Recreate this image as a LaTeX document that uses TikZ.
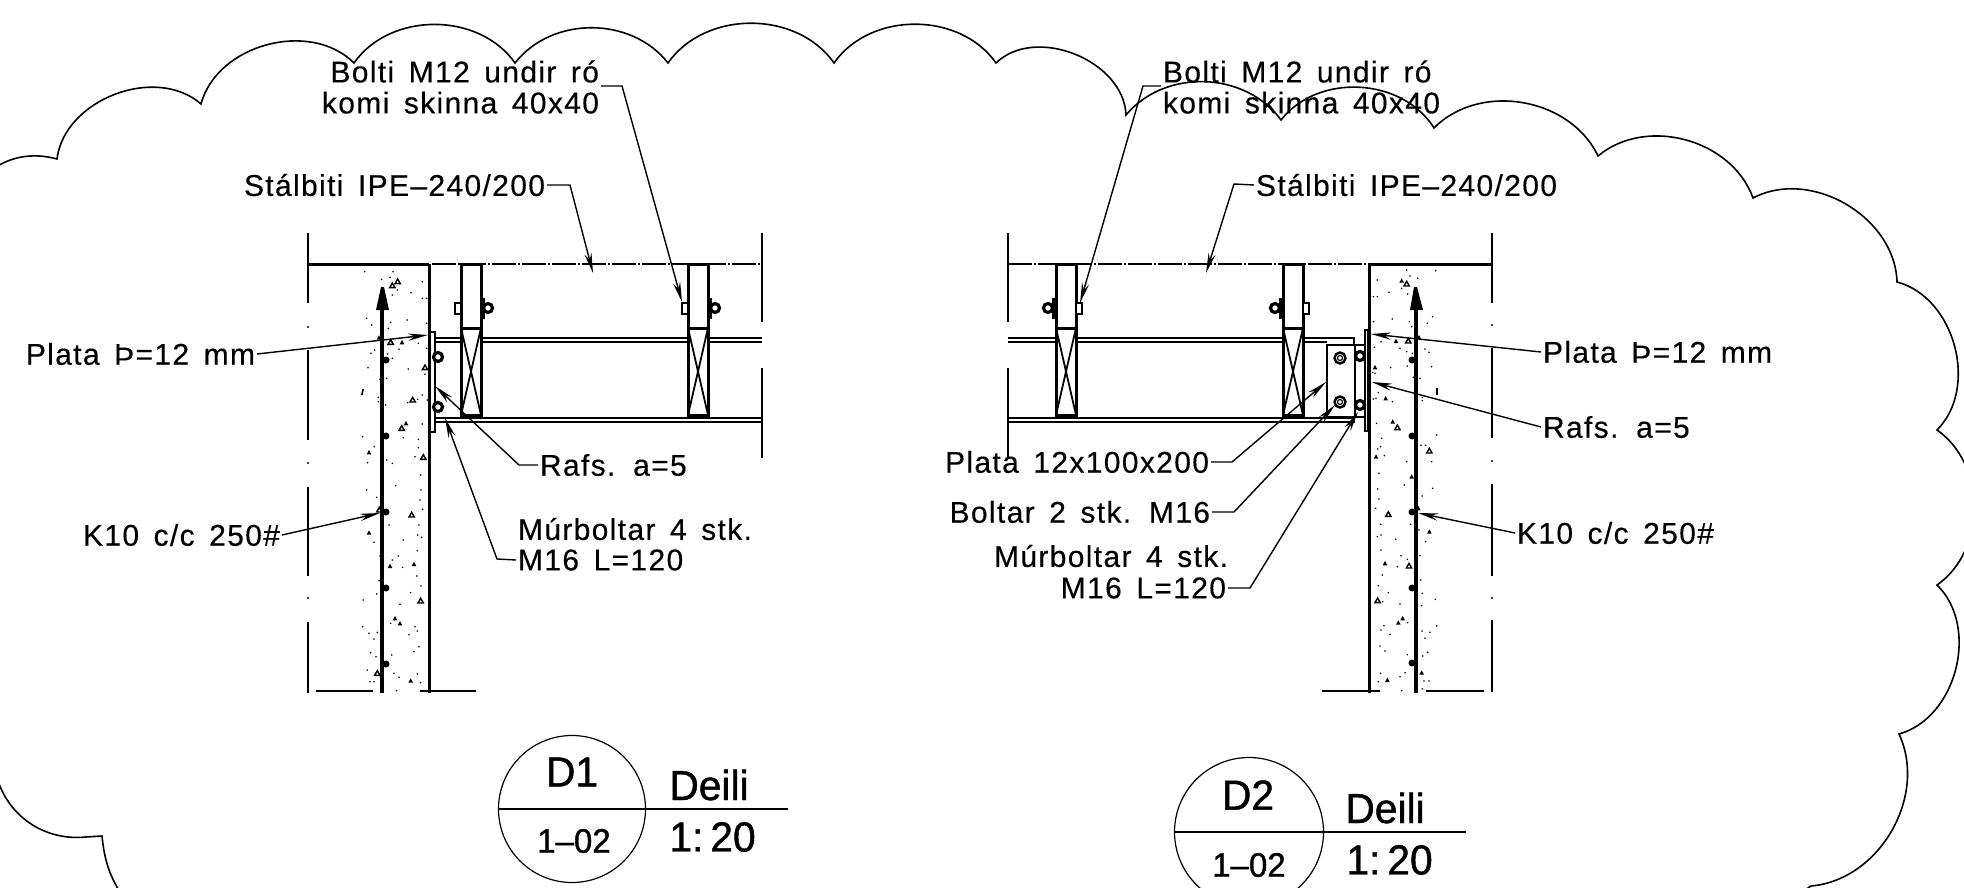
\documentclass[tikz,border=0pt]{standalone}
\usepackage{fontspec}
\setmainfont[LetterSpace=4.5,WordSpace=1.5,FakeBold=0.3]{Liberation Sans}
\newfontfamily\titlefont[FakeBold=1,FakeStretch=0.97]{Liberation Sans}
\usetikzlibrary{arrows.meta}
\usetikzlibrary{positioning}

\tikzset{
  cloudline/.style={line width=0.8pt, line join=miter},
  wallline/.style={line width=1.5pt},
  thinline/.style={line width=0.6pt},
  centerline/.style={line width=0.8pt, dash pattern=on 12pt off 1pt on 1pt off 1pt},
  rebar/.style={line width=2.2pt},
  leader/.style={line width=0.7pt, -{Stealth[length=10pt, width=3.6pt]}},
  lbl/.style={inner sep=0pt, outer sep=1pt, font=\fontsize{15}{15.5}\selectfont},
  bigtxt/.style={inner sep=0pt, font=\fontsize{21}{21}\titlefont},
  smalltxt/.style={inner sep=0pt, font=\fontsize{17}{17}\titlefont},
  hollowchip/.style={line width=0.7pt},
  fullchip/.style={fill=black},
}

\begin{document}
\begin{tikzpicture}[x=0.5pt, y=-0.5pt]
  \clip (0,0) rectangle (1964,888);
  \fill[white] (0,0) rectangle (1964,888);

  % cloud round the sheet
  \draw[cloudline] (-30,195) to[bend left=38] (57,159) to[bend left=62] (201,104)
    to[bend left=60] (354,63) to[bend left=55] (515,63) to[bend left=52] (668,63)
    to[bend left=55] (834,63) to[bend left=55] (996,63) to[bend left=66] (1126,115)
    to[bend left=52] (1281,120) to[bend left=55] (1434,128) to[bend left=55] (1598,156)
    to[bend left=55] (1753,198) to[bend left=58] (1897,282) to[bend left=60] (1937,430)
    to[bend left=55] (1937,585) to[bend left=60] (1899,734) to[bend left=55] (1811,886)
    -- (1790,900);
  \draw[cloudline] (-5,770) to[bend right=42] (86,837) -- (102,836) to[bend right=14] (125,900);

  % left detail, wall
  \draw[wallline] (308,264) -- (429,264);
  \draw[wallline] (429,264) -- (429,693);
  \draw[rebar] (382,300) -- (382,693);
  \draw[thinline] (308,233) -- (308,303) (308,350) -- (308,440) (308,487) -- (308,576) (308,622) -- (308,693);
  \foreach \y in {327,463,598} \fill (308,\y) circle (1.2);
  \draw[thinline] (762,233) -- (762,322) (762,368) -- (762,458);
  \draw[thinline] (316,691) -- (373,691) (420,691) -- (476,691);
  \fill (381,287) -- (384,287) -- (389,310) -- (376,310) -- cycle;
  \foreach \y in {360,436,512,588,664} \fill (386,\y) circle (3.5);

  % left detail, beam
  \draw[centerline] (432,264) -- (762,264);
  \draw[thinline] (435,338) -- (762,338) (435,342) -- (762,342);
  \draw[thinline] (435,418) -- (762,418) (435,422) -- (762,422);
  \draw[thinline, fill=white] (430,332) rectangle (435,432);
  \foreach \y in {357,407} \draw[line width=1.6pt, fill=white] (438,\y) circle (4.5);

  % right detail, wall
  \draw[wallline] (1369,264) -- (1493,264);
  \draw[wallline] (1369,264) -- (1369,693);
  \draw[rebar] (1416,300) -- (1416,693);
  \draw[thinline] (1492,233) -- (1492,303) (1492,348) -- (1492,438) (1492,484) -- (1492,576) (1492,620) -- (1492,692);
  \foreach \y in {325,461,598} \fill (1492,\y) circle (1.2);
  \draw[thinline] (1008,233) -- (1008,322) (1008,368) -- (1008,458);
  \draw[thinline] (1322,691) -- (1380,691) (1426,691) -- (1484,691);
  \fill (1414,287) -- (1417,287) -- (1423,310) -- (1410,310) -- cycle;
  \foreach \y in {360,436,512,588,663} \fill (1412,\y) circle (3.5);

  % right detail, beam and plates
  \draw[centerline] (1008,264) -- (1369,264);
  \draw[thinline] (1008,338) -- (1354,338) -- (1354,345) (1008,342) -- (1327,342);
  \draw[thinline] (1008,418) -- (1355,418) (1008,422) -- (1355,422);
  \draw[thinline] (1327,345) rectangle (1355,417);
  \draw[thinline] (1355,345) -- (1365,345) (1355,417) -- (1365,417);
  \draw[thinline, dashed] (1355,345) -- (1355,417);
  \draw[thinline, fill=white] (1365,330) rectangle (1368,431);
  \foreach \y in {358,402} {
    \draw[line width=1.2pt] (1340,\y) circle (5.5);
    \draw[thinline] (1340,\y) circle (2.5);
  }
  \foreach \y in {356,405} \draw[line width=1.6pt, fill=white] (1360,\y) circle (4.5);

  % timbers
  \foreach \x in {461,688,1056,1283} {
    \draw[wallline, fill=white] (\x,264) rectangle (\x+20,415);
    \draw[wallline] (\x,328) -- (\x+20,328);
    \draw[line width=0.9pt] (\x,328) -- (\x+20,415) (\x+20,328) -- (\x,415);
  }
  % bolts, nut to the right
  \foreach \x in {461,688} {
    \draw[line width=1.3pt, fill=white] (\x-6,303) rectangle (\x,314);
    \draw[line width=0.8pt, fill=white] (\x+21,299) rectangle (\x+23,318);
    \draw[line width=1.6pt, fill=white] (\x+27,308) circle (4.5);
  }
  % bolts, nut to the left
  \foreach \x in {1056,1283} {
    \draw[line width=1.3pt, fill=white] (\x+20,303) rectangle (\x+26,314);
    \draw[line width=0.8pt, fill=white] (\x-3,299) rectangle (\x-1,318);
    \draw[line width=1.6pt, fill=white] (\x-8,308) circle (4.5);
  }

  % concrete, left
  \begin{scope}[shift={(300,260)}, scale=1/3]
    \foreach \x/\y in {194/35,245/58,270/52,279/35,292/90,277/105,333/98,367/65,367/115,380/115,380/190,322/180,272/187,265/205,215/195,200/175,380/265,355/250,297/268,277/295,263/282,213/280,224/270,204/323,325/327,260/355,240/358,375/343,235/412,235/425,323/428,353/418,382/420,367/405,257/435,367/492,310/533,188/530,355/538,223/560,355/563,345/590,203/608,260/600,277/610,362/645}
      \fill (\x,\y) circle (2.6);
    \foreach \x/\y in {277/77,293/65,272/247,375/323,338/420,305/505,370/592}
      \draw[hollowchip] (\x-8,\y+6) -- (\x+8,\y+6) -- (\x,\y-8) -- cycle;
    \foreach \x/\y in {306/247,318/490,207/577,237/233}
      \fill (\x-7,\y+6) -- (\x+7,\y+6) -- (\x,\y-7) -- cycle;
    \fill (183,405) -- (188,405) -- (192,387) -- (187,387) -- cycle;
  \end{scope}
  \begin{scope}[shift={(360,480)}, scale=1/3]
    \foreach \x/\y in {20/30,50/52,107/17,183/30,180/60,188/88,87/135,177/135,130/180,185/172,173/165,42/187,60/228,172/212,115/228,97/240,128/262,170/288,183/318,57/302,50/342,152/338,10/360,120/373,165/440,172/453,8/440,52/457,27/460,42/477,147/464,92/430,32/518,48/530,95/525,162/515,177/500,22/570,102/580,117/592,172/582,182/608,30/605,42/605,110/632}
      \fill (\x,\y) circle (2.6);
    \foreach \x/\y in {58/90,155/105,182/363,52/580}
      \draw[hollowchip] (\x-8,\y+6) -- (\x+8,\y+6) -- (\x,\y-8) -- cycle;
    \foreach \x/\y in {27/158,90/258,162/252,105/415,120/430,152/602}
      \fill (\x-7,\y+6) -- (\x+7,\y+6) -- (\x,\y-7) -- cycle;
  \end{scope}

  % concrete, right
  \begin{scope}[shift={(1360,260)}, scale=1/3]
    \foreach \x/\y in {52/60,40/110,52/110,87/97,125/85,150/48,140/30,173/55,143/102,227/32,218/170,202/190,97/177,40/185,148/185,155/200,63/245,43/262,120/265,140/275,157/280,195/267,207/277,215/320,142/318,92/323,38/337,45/340,180/355,160/352,55/398,40/417,48/415,97/425,187/412,187/422,50/490,65/535,62/560,53/567,73/587,230/525,183/556,197/556,140/605,215/605,57/640}
      \fill (\x,\y) circle (2.6);
    \foreach \x/\y in {140/72,145/243,112/503,208/573}
      \draw[hollowchip] (\x-8,\y+6) -- (\x+8,\y+6) -- (\x,\y-8) -- cycle;
    \foreach \x/\y in {125/62,108/243,45/322,77/415,98/485,48/590,177/232,155/650}
      \fill (\x-7,\y+6) -- (\x+7,\y+6) -- (\x,\y-7) -- cycle;
    \fill (229,405) -- (234,405) -- (234,384) -- (229,384) -- cycle;
  \end{scope}
  \begin{scope}[shift={(1360,480)}, scale=1/3]
    \foreach \x/\y in {53/27,133/15,218/25,187/48,57/57,47/85,62/133,152/133,177/150,52/170,63/165,107/178,197/185,63/210,123/227,180/227,142/238,112/260,67/285,182/300,55/317,85/338,187/340,226/358,120/372,185/377,68/365,143/428,72/437,230/438,63/450,186/453,210/457,90/463,195/475,60/498,75/513,203/517,142/524,188/528,62/580,135/578,120/590,55/605,192/603,207/603,125/632,187/627}
      \fill (\x,\y) circle (2.6);
    \foreach \x/\y in {85/103,147/258,53/362}
      \draw[hollowchip] (\x-8,\y+6) -- (\x+8,\y+6) -- (\x,\y-8) -- cycle;
    \foreach \x/\y in {208/155,75/250,128/415,115/428,82/600,185/578,175/85}
      \fill (\x-7,\y+6) -- (\x+7,\y+6) -- (\x,\y-7) -- cycle;
  \end{scope}

  % left labels
  \node[lbl, align=right, anchor=east] (boltiL) at (601,87) {Bolti M12 undir ró\\komi skinna 40x40};
  \node[lbl, anchor=east] (stalL) at (547,185) {Stálbiti IPE–240/200};
  \node[lbl, anchor=east] (plataL) at (257,354) {Plata Þ=12 mm};
  \node[lbl, anchor=west] (rafsL) at (538,465) {Rafs. a=5};
  \node[lbl, anchor=west] (murL) at (516,529) {Múrboltar 4 stk.};
  \node[lbl, anchor=west] (m16L) at (516,560) {M16 L=120};
  \node[lbl, anchor=east] (kL) at (282,535) {K10 c/c 250\#};

  \coordinate (boltiLa) at (622,86);
  \coordinate (boltiLb) at (682,302);
  \coordinate (stalLa) at (570,185);
  \coordinate (stalLb) at (593,273);
  \coordinate (plataLb) at (428,335);
  \coordinate (rafsLa) at (519,465);
  \coordinate (rafsLb) at (435,386);
  \coordinate (m16La) at (497,559);
  \coordinate (m16Lb) at (445,418);
  \coordinate (kLb) at (380,513);
  \draw[leader] (boltiL.east |- boltiLa) -- (boltiLa) -- (boltiLb);
  \draw[leader] (stalL.east) -- (stalLa) -- (stalLb);
  \draw[leader] (plataL.east) -- (plataLb);
  \draw[leader] (rafsL.west) -- (rafsLa) -- (rafsLb);
  \draw[leader] (m16L.west) -- (m16La) -- (m16Lb);
  \draw[leader] (kL.east) -- (kLb);

  % right labels
  \node[lbl, align=left, anchor=west] (boltiR) at (1161,87) {Bolti M12 undir ró\\komi skinna 40x40};
  \node[lbl, anchor=west] (stalR) at (1254,185) {Stálbiti IPE–240/200};
  \node[lbl, anchor=west] (plataR) at (1541,352) {Plata Þ=12 mm};
  \node[lbl, anchor=west] (rafsR) at (1541,427) {Rafs. a=5};
  \node[lbl, anchor=west] (kR) at (1515,533) {K10 c/c 250\#};
  \node[lbl, anchor=east] (plotR) at (1211,462) {Plata 12x100x200};
  \node[lbl, anchor=east] (boltarR) at (1212,512) {Boltar 2 stk. M16};
  \node[lbl, anchor=east] (murR) at (1230,556) {Múrboltar 4 stk.};
  \node[lbl, anchor=east] (m16R) at (1228,588) {M16 L=120};

  \coordinate (boltiRa) at (1143,86);
  \coordinate (boltiRb) at (1080,303);
  \coordinate (stalRa) at (1234,184);
  \coordinate (stalRb) at (1206,273);
  \coordinate (plataRb) at (1371,334);
  \coordinate (rafsRb) at (1372,382);
  \coordinate (kRb) at (1418,513);
  \coordinate (plotRa) at (1232,462);
  \coordinate (plotRb) at (1326,382);
  \coordinate (boltarRa) at (1234,512);
  \coordinate (boltarRb) at (1335,405);
  \coordinate (m16Ra) at (1250,588);
  \coordinate (m16Rb) at (1358,412);
  \draw[leader] (boltiR.west |- boltiRa) -- (boltiRa) -- (boltiRb);
  \draw[leader] (stalR.west) -- (stalRa) -- (stalRb);
  \draw[leader] (plataR.west) -- (plataRb);
  \draw[leader] (rafsR.west) -- (rafsRb);
  \draw[leader] (kR.west) -- (kRb);
  \draw[leader] (plotR.east) -- (plotRa) -- (plotRb);
  \draw[leader] (boltarR.east) -- (boltarRa) -- (boltarRb);
  \draw[leader] (m16R.east) -- (m16Ra) -- (m16Rb);

  % title marks
  \draw[thinline] (572,809) circle (73.5);
  \draw[wallline, line width=1pt] (499,809) -- (788,809);
  \node[bigtxt] (markA) at (572,772) {D1};
  \node[smalltxt] (sheetA) at (574,841) {1–02};
  \node[bigtxt, anchor=west] (deiliA) at (669,785) {Deili};
  \node[bigtxt, anchor=west] (scaleA) at (669,837) {1:\,20};

  \draw[thinline] (1249,832) circle (74.5);
  \draw[wallline, line width=1pt] (1175,832) -- (1466,832);
  \node[bigtxt] (markB) at (1248,795) {D2};
  \node[smalltxt] (sheetB) at (1249,865) {1–02};
  \node[bigtxt, anchor=west] (deiliB) at (1345,808) {Deili};
  \node[bigtxt, anchor=west] (scaleB) at (1346,860) {1:\,20};
\end{tikzpicture}
\end{document}
